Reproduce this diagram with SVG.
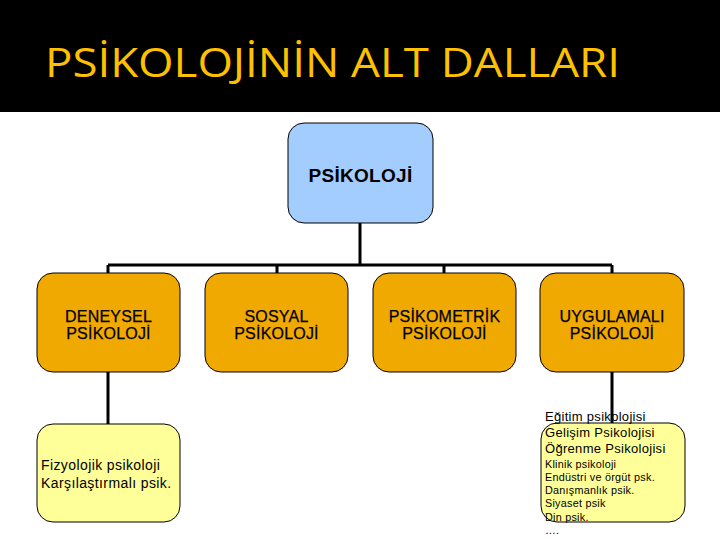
<svg xmlns="http://www.w3.org/2000/svg" width="720" height="540" viewBox="0 0 720 540">
<style>
.box{stroke:#000;stroke-width:1}
.blue{fill:#A3CCFF}
.gold{fill:#F0A900}
.pale{fill:#FFFF99}
.t{font-family:"Liberation Sans",Arial,sans-serif;fill:#000}
.c{text-anchor:middle;font-size:16px;letter-spacing:0.2px;stroke:#000;stroke-width:0.25px}
.top{text-anchor:middle;font-size:19px;font-weight:bold;letter-spacing:0.3px}
.m{font-size:14px;letter-spacing:0.4px}
.s{font-size:13px;letter-spacing:0.3px}
.xs{font-size:10.8px;letter-spacing:0.25px}
.ln{stroke:#000;stroke-width:3;fill:none}
</style>
<rect x="0" y="0" width="720" height="540" fill="#fff"/>
<rect x="0" y="0" width="720" height="112" fill="#000"/>
<text x="45" y="77" font-family="'Open Sans','Noto Sans',sans-serif" font-weight="500" font-size="40" fill="#FFC000" textLength="575" lengthAdjust="spacingAndGlyphs">PSİKOLOJİNİN  ALT DALLARI</text>
<g id="connectors">
<path class="ln" d="M360 223V265M108 265H612M108 265V273M277 265V273M444 265V273M612 265V273M108 372V424"/>
</g>
<g id="psikoloji">
<rect class="box blue" x="288" y="123" width="145" height="100" rx="16"/>
<text class="t top" x="360.5" y="182">PSİKOLOJİ</text>
</g>
<g id="deneysel">
<rect class="box gold" x="37" y="273" width="143" height="99" rx="16"/>
<text class="t c" x="108.5" y="322">DENEYSEL</text>
<text class="t c" x="108.5" y="339">PSİKOLOJİ</text>
</g>
<g id="sosyal">
<rect class="box gold" x="205" y="273" width="143" height="99" rx="16"/>
<text class="t c" x="276.5" y="322">SOSYAL</text>
<text class="t c" x="276.5" y="339">PSİKOLOJİ</text>
</g>
<g id="psikometrik">
<rect class="box gold" x="373" y="273" width="143" height="99" rx="16"/>
<text class="t c" x="444.5" y="322">PSİKOMETRİK</text>
<text class="t c" x="444.5" y="339">PSİKOLOJİ</text>
</g>
<g id="uygulamali">
<rect class="box gold" x="540" y="273" width="144" height="99" rx="16"/>
<text class="t c" x="612" y="322">UYGULAMALI</text>
<text class="t c" x="612" y="339">PSİKOLOJİ</text>
</g>
<g id="deneysel-alt">
<rect class="box pale" x="37" y="424" width="143" height="98" rx="16"/>
<text class="t m" x="41" y="470">Fizyolojik psikoloji</text>
<text class="t m" x="41" y="488">Karşılaştırmalı psik.</text>
</g>
<g id="uygulamali-alt">
<rect class="box pale" x="541" y="423" width="144" height="99" rx="16"/>
<text class="t s" x="545" y="421">Eğitim psikolojisi</text>
<text class="t s" x="545" y="437">Gelişim Psikolojisi</text>
<text class="t s" x="545" y="453">Öğrenme Psikolojisi</text>
<text class="t xs" x="545" y="468">Klinik psikoloji</text>
<text class="t xs" x="545" y="481">Endüstri ve örgüt psk.</text>
<text class="t xs" x="545" y="494">Danışmanlık psik.</text>
<text class="t xs" x="545" y="507">Siyaset psik</text>
<text class="t xs" x="545" y="521">Din psik.</text>
<text class="t xs" x="545" y="534">….</text>
</g>
<g id="connectors-top">
<path class="ln" d="M612 372V423"/>
</g>
</svg>
